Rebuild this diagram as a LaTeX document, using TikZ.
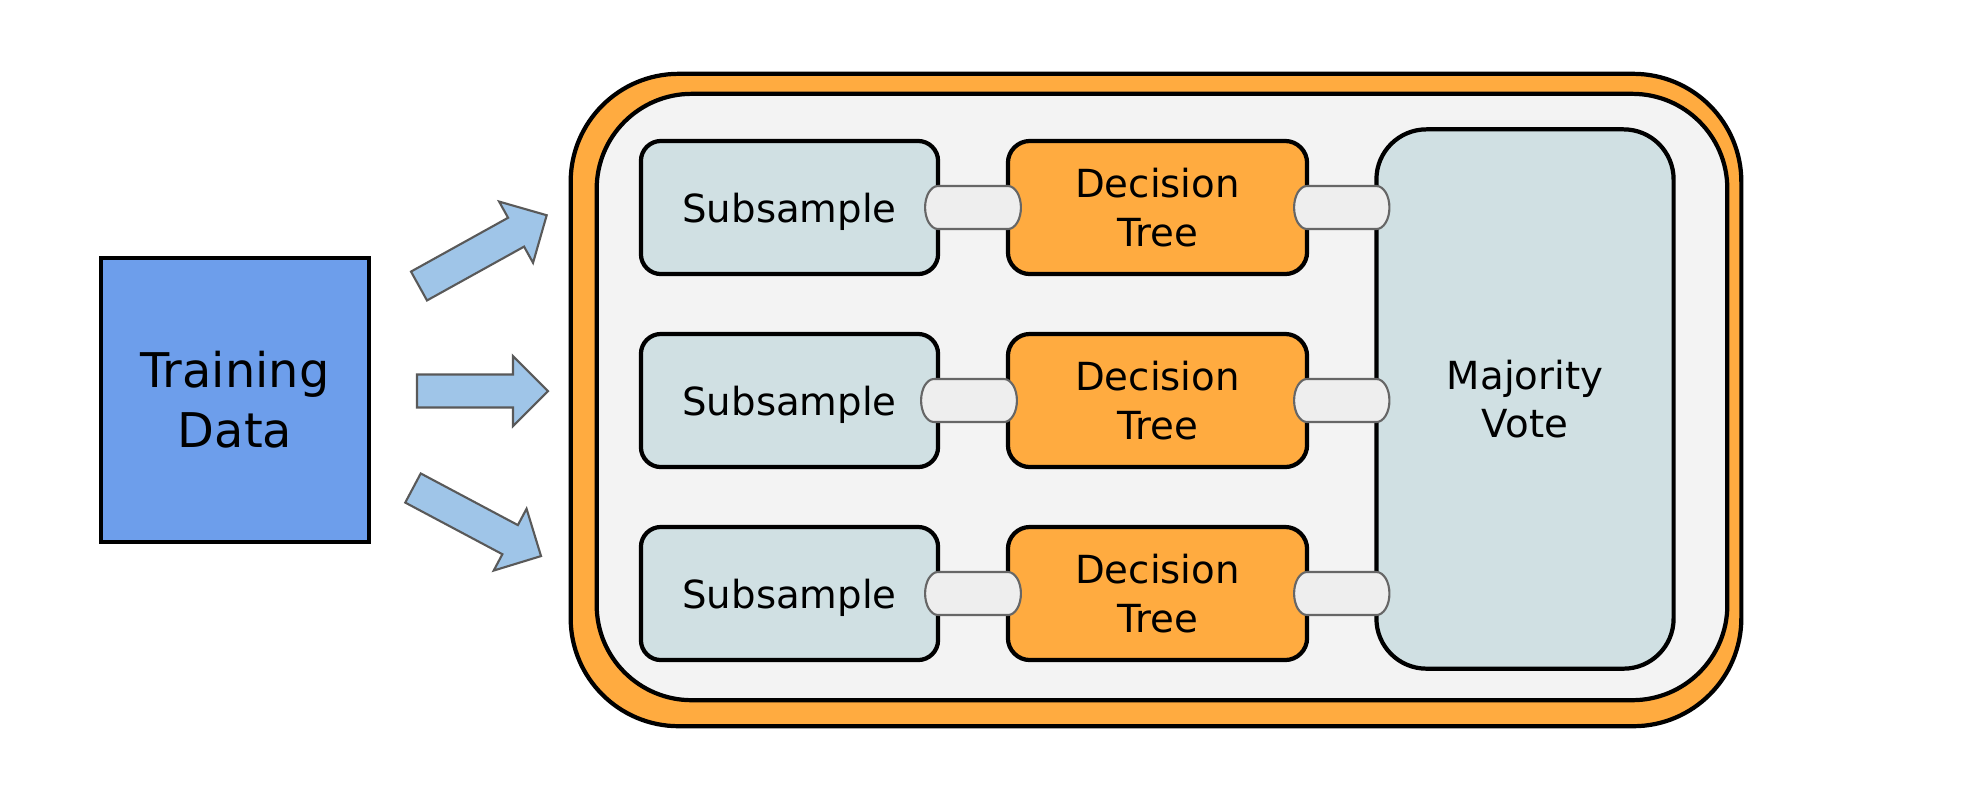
\documentclass[tikz,border=0pt]{standalone}
\usepackage{fontspec}
\setmainfont{DejaVu Sans}
\usetikzlibrary{calc}
\definecolor{tdblue}{HTML}{6D9EEB}
\definecolor{arrblue}{HTML}{9FC5E8}
\definecolor{arrgray}{HTML}{595959}
\definecolor{orng}{HTML}{FFAB40}
\definecolor{innergray}{HTML}{F3F3F3}
\definecolor{subfill}{HTML}{D0E0E3}
\definecolor{pipefill}{HTML}{EEEEEE}
\definecolor{pipeline}{HTML}{666666}
\tikzset{
  box/.style={draw=black, line width=1.2pt, outer sep=0pt, align=center, inner sep=0pt},
  subbox/.style={box, fill=subfill, rounded corners=0.2cm, minimum width=2.97cm, minimum height=1.33cm, font=\fontsize{11}{13.8}\selectfont},
  treebox/.style={box, fill=orng, rounded corners=0.22cm, minimum width=2.99cm, minimum height=1.33cm, font=\fontsize{11}{13.8}\selectfont},
  pipesty/.style={draw=pipeline, fill=pipefill, line width=0.6pt},
  arrowsty/.style={draw=arrgray, fill=arrblue, line width=0.6pt, line join=miter},
  pics/barrow/.style={code={\draw[arrowsty] (0,-16.5) -- ({#1-35},-16.5) -- ({#1-35},-35) -- (#1,0) -- ({#1-35},35) -- ({#1-35},16.5) -- (0,16.5) -- cycle;}}
}
% #3: horizontal shift of the pipe
\newcommand\mypipe[3]{%
  \draw[pipesty] ($(#1.east)+(#3,-21.5)$) -- ($(#1.east -| #2.west)+(#3,-21.5)$)
    arc[start angle=90,end angle=-90,x radius=0.13cm,y radius=0.215cm]
    -- ($(#1.east)+(#3,21.5)$)
    arc[start angle=270,end angle=90,x radius=0.13cm,y radius=0.215cm] -- cycle;}
\begin{document}
\begin{tikzpicture}[x=0.01cm,y=-0.01cm]
\useasboundingbox (0,0) rectangle (1988,790);
% training data
\node[box, fill=tdblue, minimum width=2.68cm, minimum height=2.84cm, font=\fontsize{13.6}{17}\selectfont] (td) at (235,400) {Training\\Data};
% arrows
\pic[rotate=29] at (419,286) {barrow=146};
\pic at (417,391) {barrow=131};
\pic[rotate=-28] at (413,488) {barrow=145};
% containers
\node[box, fill=orng, rounded corners=1.08cm, minimum width=11.70cm, minimum height=6.52cm] (outer) at (1156,400) {};
\node[box, fill=innergray, rounded corners=0.95cm, minimum width=11.30cm, minimum height=6.06cm] (inner) at (1162,397) {};
% rows
\node[subbox, text depth=0pt] (s1) at (789.5,207.5) {Subsample};
\node[subbox, text depth=0pt] (s2) at (789.5,400.5) {Subsample};
\node[subbox, text depth=0pt] (s3) at (789.5,593.5) {Subsample};
\node[treebox] (d1) at (1157.5,207.5) {Decision\\Tree};
\node[treebox] (d2) at (1157.5,400.5) {Decision\\Tree};
\node[treebox] (d3) at (1157.5,593.5) {Decision\\Tree};
\node[subbox, rounded corners=0.5cm, minimum width=2.97cm, minimum height=5.39cm] (mv) at (1525,399) {Majority\\Vote};
% pipes
\mypipe{s1}{d1}{0}
\mypipe{s2}{d2}{-4}
\mypipe{s3}{d3}{0}
\mypipe{d1}{mv}{0}
\mypipe{d2}{mv}{0}
\mypipe{d3}{mv}{0}
\end{tikzpicture}
\end{document}
